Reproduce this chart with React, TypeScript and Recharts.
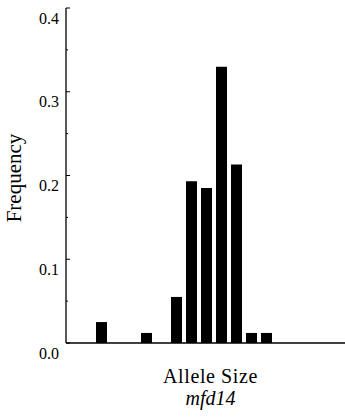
import React from "react";
import { BarChart, Bar, XAxis, YAxis } from "recharts";

// allele bins, left to right (tick labels are not printed in the figure)
const alleles = ["1", "2", "3", "4", "5", "6", "7", "8", "9", "10", "11", "12"];
const frequency = [0.025, 0, 0, 0.012, 0, 0.055, 0.193, 0.185, 0.33, 0.213, 0.012, 0.012];
const yTicks = [0, 0.05, 0.1, 0.15, 0.2, 0.25, 0.3, 0.35, 0.4];

const data = alleles.map((a, i) => ({ allele: a, freq: frequency[i] }));

const FONT = "\"Liberation Serif\", \"Times New Roman\", serif";

function FreqTick(props: any) {
  const { x, y, payload } = props;
  const v = payload.value as number;
  const major = Math.abs(v * 10 - Math.round(v * 10)) < 1e-6;
  return (
    <g>
      <line x1={x} x2={x + (major ? 4 : 2)} y1={y} y2={y} stroke="#000" strokeWidth={1} />
      {major && (
        <text x={x - 7} y={y + 10} textAnchor="end" dominantBaseline="central" fontSize={16} fontFamily={FONT} fill="#000">
          {v.toFixed(1)}
        </text>
      )}
    </g>
  );
}

function AxisTitle(props: any) {
  const vb = props.viewBox;
  const cx = vb.x + vb.width / 2 + 5;
  return (
    <g>
      <text x={cx} y={383} fill="#000" fontSize={20} letterSpacing={0.6} textAnchor="middle" fontFamily={FONT}>
        Allele Size
      </text>
      <text x={cx} y={405} fill="#000" fontSize={20} textAnchor="middle" fontFamily={FONT} fontStyle="italic">
        mfd14
      </text>
    </g>
  );
}

export default function App() {
  return (
    <div style={{ position: "absolute", left: 0, top: 0, width: 345, height: 420, background: "#fff" }}>
      <BarChart width={345} height={420} data={data} margin={{ top: 8, right: 0, left: 0, bottom: 0 }}>
        <XAxis
          dataKey="allele"
          height={77}
          tick={false}
          tickLine={false}
          axisLine={{ stroke: "#000", strokeWidth: 1.3 }}
          padding={{ left: 28, right: 71 }}
          label={<AxisTitle />}
        />
        <YAxis
          width={66}
          domain={[0, 0.4]}
          ticks={yTicks}
          interval={0}
          tickSize={0}
          tickMargin={0}
          tickLine={false}
          axisLine={{ stroke: "#000", strokeWidth: 1.3 }}
          tick={<FreqTick />}
        />
        <Bar dataKey="freq" fill="#000" barSize={11} isAnimationActive={false} />
        <text x={21} y={178} transform="rotate(-90 21 178)" textAnchor="middle" fontSize={21} fill="#000" fontFamily={FONT}>
          Frequency
        </text>
      </BarChart>
    </div>
  );
}
